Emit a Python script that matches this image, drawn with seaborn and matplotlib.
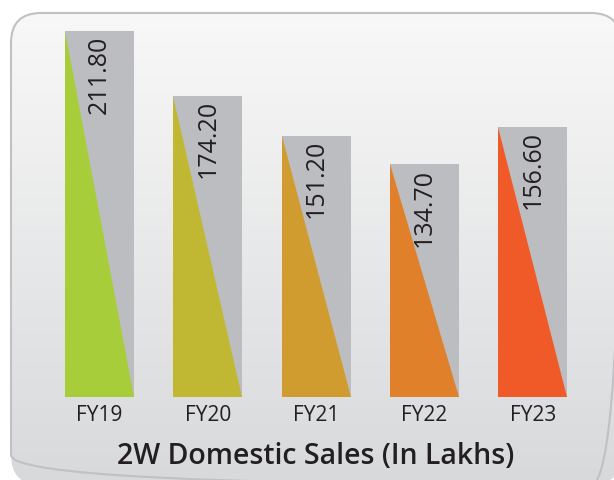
import numpy as np
import pandas as pd
import matplotlib
matplotlib.use("Agg")
import matplotlib.pyplot as plt
from matplotlib.patches import FancyBboxPatch, Polygon
from matplotlib.colors import LinearSegmentedColormap
import seaborn as sns

years = ["FY19", "FY20", "FY21", "FY22", "FY23"]
sales = [211.80, 174.20, 151.20, 134.70, 156.60]
value_labels = ["211.80", "174.20", "151.20", "134.70", "156.60"]
tri_colors = ["#a8cd3a", "#c0b732", "#d19c2f", "#e0802b", "#f05a28"]
title = "2W Domestic Sales (In Lakhs)"

sns.set_theme(style="white")
plt.rcParams["font.family"] = ["Open Sans", "DejaVu Sans"]

W, H = 614, 480
fig = plt.figure(figsize=(W / 100, H / 100), dpi=100)
fig.patch.set_facecolor("white")

# background panel with gradient
bg = fig.add_axes([0, 0, 1, 1])
bg.axis("off")
frame = FancyBboxPatch((11, 13), 610, 472, boxstyle="round,pad=0,rounding_size=30",
                       facecolor="none", edgecolor="none")
bg.add_patch(frame)
grad = np.linspace(0, 1, 256).reshape(-1, 1)
cmap = LinearSegmentedColormap.from_list("bg", ["#f8f8f8", "#d8d9db"])
im = bg.imshow(grad, cmap=cmap, extent=[11, 621, 485, 13], aspect="auto", zorder=0)
im.set_clip_path(frame)
border = FancyBboxPatch((11, 13), 610, 472, boxstyle="round,pad=0,rounding_size=30",
                        facecolor="none", edgecolor="#c0c1c4", linewidth=1.5, zorder=1)
bg.add_patch(border)
bg.set_xlim(0, W)
bg.set_ylim(H, 0)

# main axes
step = 108.3
left = 99.5 - 0.5 * step
ax = fig.add_axes([left / W, 83 / H, 5 * step / W, 380 / H])
ax.set_facecolor("none")
df = pd.DataFrame({"year": years, "sales": sales})
sns.barplot(data=df, x="year", y="sales", color="#bcbdc0", saturation=1,
            width=0.637, ax=ax, zorder=2, edgecolor="none", linewidth=0)
ax.set_ylim(0, 220)
ax.set_xlim(-0.5, 4.5)

for p, c, lab in zip(ax.patches, tri_colors, value_labels):
    x0 = p.get_x()
    w = p.get_width()
    h = p.get_height()
    tri = Polygon([(x0, h), (x0, 0), (x0 + w, 0)], closed=True,
                  facecolor=c, edgecolor="none", zorder=3)
    ax.add_patch(tri)
    ax.annotate(lab, (x0 + w / 2, h), xytext=(0, -3), textcoords="offset points",
                rotation=90, ha="center", va="top", fontsize=18, color="#231f20",
                zorder=4)

for s in ax.spines.values():
    s.set_visible(False)
ax.set_yticks([])
ax.set_xlabel("")
ax.set_ylabel("")
ax.tick_params(axis="x", length=0, pad=6, labelsize=15, labelcolor="#231f20")

fig.text(316 / W, 1 - 457 / H, title, ha="center", va="center", fontsize=20.5,
         fontweight="semibold", color="#231f20")

fig.savefig("out.png", dpi=100)
